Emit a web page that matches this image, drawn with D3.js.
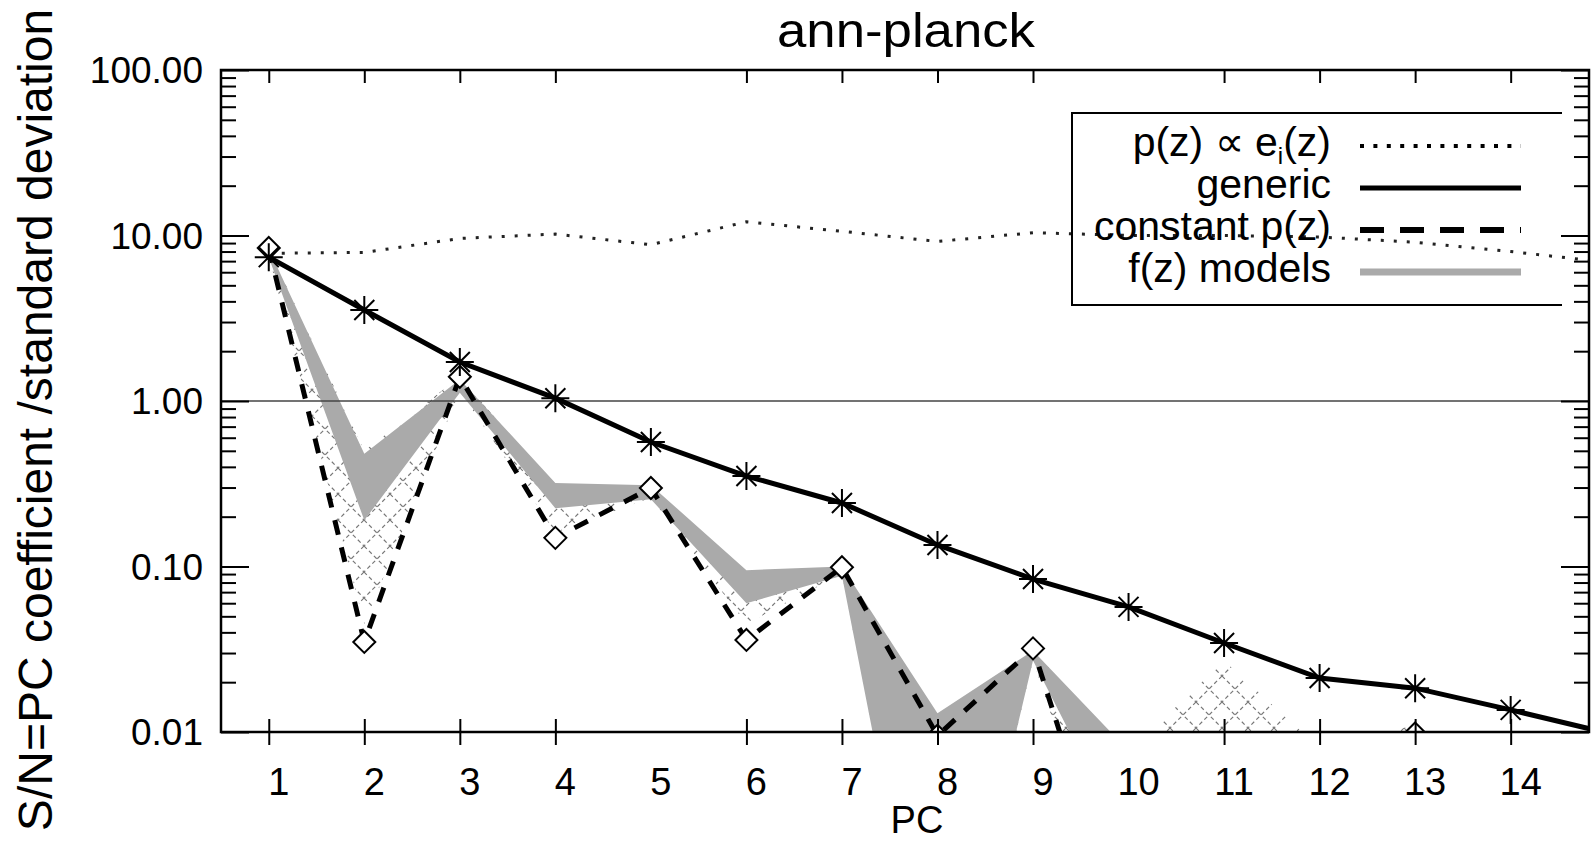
<!DOCTYPE html>
<html>
<head>
<meta charset="utf-8">
<script src="https://cdn.jsdelivr.net/npm/d3@7"></script>
<style>
  body { margin: 0; background: #fff; }
  text { font-family: "Liberation Sans", Arial, Helvetica, sans-serif; fill: #000; }
</style>
</head>
<body>
<svg id="chart" width="1591" height="843"></svg>
<script>
// values, one per PC (PC 15 only continues the lines to the right edge)
var pcs        = [1, 2, 3, 4, 5, 6, 7, 8, 9, 10, 11, 12, 13, 14, 15];
var generic    = [7.4, 3.55, 1.72, 1.04, 0.565, 0.352, 0.242, 0.135, 0.084, 0.057, 0.0345, 0.0212, 0.0184, 0.0136, 0.0099];
var constantPz = [8.4, 0.035, 1.4, 0.149, 0.298, 0.036, 0.099, 0.0095, 0.032, 0.0005, 0.002, 0.003, 0.0098, 0.003, 0.002];
var eiPz       = [7.8, 7.9, 9.6, 10.2, 8.8, 12.1, 10.6, 9.2, 10.4, 10.0, 10.0, 9.8, 9.1, 8.0, 6.9];
var modelsHi   = [8.3, 0.48, 1.35, 0.32, 0.31, 0.095, 0.1, 0.013, 0.031, 0.0077, 0.002, 0.0026, 0.0115, 0.0026, 0.001];
var modelsLo   = [7.4, 0.19, 1.12, 0.225, 0.255, 0.06, 0.088, 0.0001, 0.027, 0.002, 0.0005, 0.0005, 0.0008, 0.0005, 0.0003];
var hatchHi    = [8.3, 0.5, 1.4, 0.3, 0.31, 0.08, 0.1, 0.012, 0.031, 0.0075, 0.027, 0.008, 0.011, 0.003, 0.001];
var hatchLo    = [7.5, 0.045, 1.15, 0.16, 0.26, 0.045, 0.09, 0.0001, 0.027, 0.0005, 0.0008, 0.0005, 0.0005, 0.0005, 0.0003];

var xTickValues = [1, 2, 3, 4, 6, 7, 8, 9, 11, 12, 13, 14];   // no tick marks at 5 and 10
var xLabelValues = [1, 2, 3, 4, 5, 6, 7, 8, 9, 10, 11, 12, 13, 14];
var yMajor = [0.01, 0.1, 1, 10, 100];
var yLabels = ["0.01", "0.10", "1.00", "10.00", "100.00"];
var legendLabels = ["p(z) \u221d e", "generic", "constant p(z)", "f(z) models"];

var plot = {left: 221, right: 1589, top: 70, bottom: 732};

var svg = d3.select("#chart");

var x = d3.scaleLinear().domain([0.5, 14.82]).range([plot.left, plot.right]);
var y = d3.scaleLog().domain([0.01, 100]).range([plot.bottom, plot.top]);

var rows = pcs.map(function (pc, i) {
    return {pc: pc, gen: generic[i], cst: constantPz[i], ei: eiPz[i],
            mHi: modelsHi[i], mLo: modelsLo[i], hHi: hatchHi[i], hLo: hatchLo[i]};
});

var defs = svg.append("defs");
defs.append("clipPath").attr("id", "plotClip").append("rect")
    .attr("x", plot.left).attr("y", plot.top)
    .attr("width", plot.right - plot.left).attr("height", plot.bottom - plot.top);

var hatch = defs.append("pattern").attr("id", "hatch")
    .attr("patternUnits", "userSpaceOnUse").attr("width", 26).attr("height", 26);
hatch.append("path").attr("d", "M0,0L26,26M26,0L0,26")
    .attr("stroke", "#777").attr("stroke-width", 1.2).attr("stroke-dasharray", "4,3");

var g = svg.append("g").attr("clip-path", "url(#plotClip)");

// hatched band
g.append("path").datum(rows)
    .attr("d", d3.area().x(function (d) { return x(d.pc); })
        .y0(function (d) { return y(d.hLo); }).y1(function (d) { return y(d.hHi); }))
    .attr("fill", "url(#hatch)");

// f(z) models band
g.append("path").datum(rows)
    .attr("d", d3.area().x(function (d) { return x(d.pc); })
        .y0(function (d) { return y(d.mLo); }).y1(function (d) { return y(d.mHi); }))
    .attr("fill", "#aaaaaa");

// reference line at 1
g.append("line").attr("x1", plot.left).attr("x2", plot.right)
    .attr("y1", y(1)).attr("y2", y(1)).attr("stroke", "#444").attr("stroke-width", 1.5);

// p(z) ~ e_i(z) dotted
g.append("path").datum(rows)
    .attr("d", d3.line().x(function (d) { return x(d.pc); }).y(function (d) { return y(d.ei); }))
    .attr("fill", "none").attr("stroke", "#222").attr("stroke-width", 3).attr("stroke-dasharray", "3,10");

// constant p(z) dashed
g.append("path").datum(rows)
    .attr("d", d3.line().x(function (d) { return x(d.pc); }).y(function (d) { return y(d.cst); }))
    .attr("fill", "none").attr("stroke", "#000").attr("stroke-width", 5).attr("stroke-dasharray", "15,13");

// generic solid
g.append("path").datum(rows)
    .attr("d", d3.line().x(function (d) { return x(d.pc); }).y(function (d) { return y(d.gen); }))
    .attr("fill", "none").attr("stroke", "#000").attr("stroke-width", 5);

// diamonds
g.selectAll(".dia").data(rows).enter().append("path").attr("class", "dia")
    .attr("transform", function (d) { return "translate(" + x(d.pc) + "," + y(d.cst) + ")"; })
    .attr("d", "M0,-11L11,0L0,11L-11,0Z")
    .attr("fill", "#fff").attr("stroke", "#000").attr("stroke-width", 2);

// asterisks
g.selectAll(".ast").data(rows).enter().append("path").attr("class", "ast")
    .attr("transform", function (d) { return "translate(" + x(d.pc) + "," + y(d.gen) + ")"; })
    .attr("d", "M-14,0H14M0,-14V14M-10,-10L10,10M-10,10L10,-10")
    .attr("fill", "none").attr("stroke", "#000").attr("stroke-width", 2);

// axes
function styleAxis(sel) {
    sel.select(".domain").remove();
    sel.selectAll(".tick line").attr("stroke", "#000").attr("stroke-width", 2);
}
svg.append("g").attr("transform", "translate(0," + plot.bottom + ")")
    .call(d3.axisBottom(x).tickValues(xTickValues).tickSize(13).tickFormat("")).call(styleAxis);
svg.append("g").attr("transform", "translate(0," + plot.bottom + ")")
    .call(d3.axisTop(x).tickValues(xTickValues).tickSize(13).tickFormat("")).call(styleAxis);
svg.append("g").attr("transform", "translate(0," + plot.top + ")")
    .call(d3.axisBottom(x).tickValues(xTickValues).tickSize(13).tickFormat("")).call(styleAxis);

var yMinor = y.ticks().filter(function (v) { return yMajor.indexOf(v) < 0; });
svg.append("g").attr("transform", "translate(" + plot.left + ",0)")
    .call(d3.axisRight(y).tickValues(yMajor).tickSize(28).tickFormat("")).call(styleAxis);
svg.append("g").attr("transform", "translate(" + plot.left + ",0)")
    .call(d3.axisRight(y).tickValues(yMinor).tickSize(15).tickFormat("")).call(styleAxis);
svg.append("g").attr("transform", "translate(" + plot.right + ",0)")
    .call(d3.axisLeft(y).tickValues(yMajor).tickSize(28).tickFormat("")).call(styleAxis);
svg.append("g").attr("transform", "translate(" + plot.right + ",0)")
    .call(d3.axisLeft(y).tickValues(yMinor).tickSize(15).tickFormat("")).call(styleAxis);

// frame
svg.append("rect").attr("x", plot.left).attr("y", plot.top)
    .attr("width", plot.right - plot.left).attr("height", plot.bottom - plot.top)
    .attr("fill", "none").attr("stroke", "#000").attr("stroke-width", 2.5);

// tick labels
svg.selectAll(".xl").data(xLabelValues).enter().append("text").attr("class", "xl")
    .attr("x", function (d) { return x(d) + 10; }).attr("y", 795)
    .attr("text-anchor", "middle").style("font-size", "38px").text(function (d) { return d; });
svg.selectAll(".yl").data(yMajor).enter().append("text").attr("class", "yl")
    .attr("x", 203).attr("y", function (d) { return y(d) + 13; })
    .attr("text-anchor", "end").style("font-size", "37px")
    .text(function (d, i) { return yLabels[i]; });

// titles
svg.append("text").attr("x", 906).attr("y", 47).attr("text-anchor", "middle")
    .attr("textLength", 258).attr("lengthAdjust", "spacingAndGlyphs")
    .style("font-size", "48px").text("ann-planck");
svg.append("text").attr("x", 917).attr("y", 833).attr("text-anchor", "middle")
    .style("font-size", "38px").text("PC");
svg.append("text").attr("transform", "translate(52,420) rotate(-90)").attr("text-anchor", "middle")
    .style("font-size", "48px").text("S/N=PC coefficient /standard deviation");

// legend
var legend = svg.append("g");
legend.append("path").attr("d", "M1562,113H1072V305H1562")
    .attr("fill", "none").attr("stroke", "#000").attr("stroke-width", 2);
var rowY = [146, 188, 230, 272];
var sampleStyles = [
    {stroke: "#000", width: 4, dash: "4,9.4"},
    {stroke: "#000", width: 5, dash: null},
    {stroke: "#000", width: 6, dash: "24,16"},
    {stroke: "#aaaaaa", width: 7, dash: null}
];
var textRight = 1331;
legendLabels.forEach(function (label, i) {
    var t = legend.append("text").attr("x", textRight).attr("y", rowY[i] + 10)
        .attr("text-anchor", "end").style("font-size", "41px");
    t.append("tspan").text(label);
    if (i === 0) {
        t.append("tspan").attr("dy", 8).style("font-size", "24px").text("i");
        t.append("tspan").attr("dy", -8).text("(z)");
    }
    legend.append("line").attr("x1", 1360).attr("x2", 1521)
        .attr("y1", rowY[i]).attr("y2", rowY[i])
        .attr("stroke", sampleStyles[i].stroke).attr("stroke-width", sampleStyles[i].width)
        .attr("stroke-dasharray", sampleStyles[i].dash);
});
</script>
</body>
</html>
